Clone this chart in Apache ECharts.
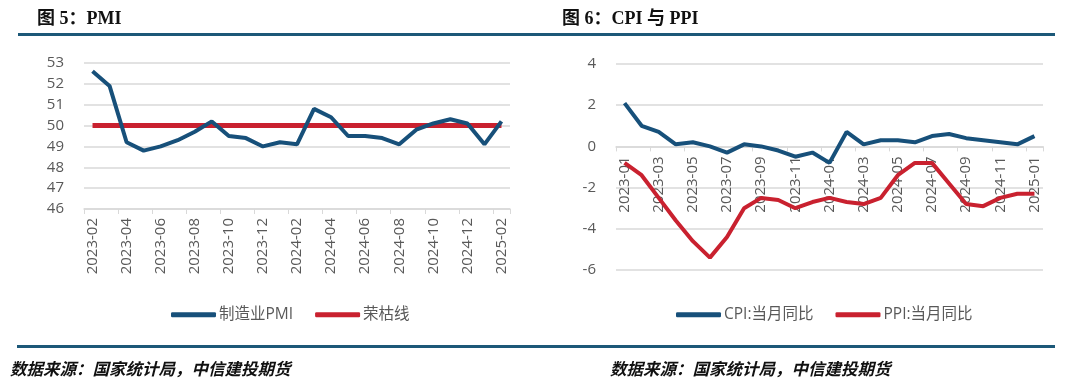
<!DOCTYPE html>
<html>
<head>
<meta charset="utf-8">
<script src="https://cdn.jsdelivr.net/npm/echarts@6/dist/echarts.min.js"></script>
<style>html,body{margin:0;padding:0;background:#fff;}#c{width:1080px;height:382px;}</style>
</head>
<body>
<div id="c"></div>
<script>
// ---- Data ----
var pmiMonths = ['2023-02','2023-03','2023-04','2023-05','2023-06','2023-07','2023-08','2023-09','2023-10','2023-11','2023-12',
  '2024-01','2024-02','2024-03','2024-04','2024-05','2024-06','2024-07','2024-08','2024-09','2024-10','2024-11','2024-12',
  '2025-01','2025-02'];
var pmiValues = [52.6,51.9,49.2,48.8,49.0,49.3,49.7,50.2,49.5,49.4,49.0,49.2,49.1,50.8,50.4,49.5,49.5,49.4,49.1,49.8,50.1,50.3,50.1,49.1,50.2];
var boomBust = [50,50,50,50,50,50,50,50,50,50,50,50,50,50,50,50,50,50,50,50,50,50,50,50,50];

var cpiMonths = ['2023-01','2023-02','2023-03','2023-04','2023-05','2023-06','2023-07','2023-08','2023-09','2023-10','2023-11','2023-12',
  '2024-01','2024-02','2024-03','2024-04','2024-05','2024-06','2024-07','2024-08','2024-09','2024-10','2024-11','2024-12','2025-01'];
var cpiValues = [2.1,1.0,0.7,0.1,0.2,0.0,-0.3,0.1,0.0,-0.2,-0.5,-0.3,-0.8,0.7,0.1,0.3,0.3,0.2,0.5,0.6,0.4,0.3,0.2,0.1,0.5];
var ppiValues = [-0.8,-1.4,-2.5,-3.6,-4.6,-5.4,-4.4,-3.0,-2.5,-2.6,-3.0,-2.7,-2.5,-2.7,-2.8,-2.5,-1.4,-0.8,-0.8,-1.8,-2.8,-2.9,-2.5,-2.3,-2.3];

var BLUE = '#17507a', RED = '#c9212f', RULE = '#1c5878';
var FONT = '"Open Sans","Noto Sans CJK SC",sans-serif';

var chart = echarts.init(document.getElementById('c'));
var axisLabelStyle = {color:'#595959', fontSize:15, fontFamily:FONT};

// right grid geometry; the category axis sits on the zero line of the value axis
var G2 = {left:616, right:37, top:64, bottom:112};
var Y2MIN = -6, Y2MAX = 4;
var g2Height = 382 - G2.top - G2.bottom;
var zeroOffset = -g2Height * (0 - Y2MIN) / (Y2MAX - Y2MIN);

chart.setOption({
  animation:false,
  title:[
    {text:'图 5：PMI', left:32, top:5, textStyle:{fontFamily:'"Liberation Serif","Noto Sans CJK SC",serif', fontWeight:'bold', fontSize:18, color:'#111'}},
    {text:'图 6：CPI 与 PPI', left:557, top:5, textStyle:{fontFamily:'"Liberation Serif","Noto Sans CJK SC",serif', fontWeight:'bold', fontSize:18, color:'#111'}},
    {text:'数据来源：国家统计局，中信建投期货', left:5, top:355, textStyle:{fontFamily:'"Noto Sans CJK SC",sans-serif', fontStyle:'italic', fontWeight:'bold', fontSize:16.5, color:'#111'}},
    {text:'数据来源：国家统计局，中信建投期货', left:605, top:355, textStyle:{fontFamily:'"Noto Sans CJK SC",sans-serif', fontStyle:'italic', fontWeight:'bold', fontSize:16.5, color:'#111'}}
  ],
  graphic:[
    {type:'rect', shape:{x:18, y:33, width:1037, height:3}, style:{fill:RULE}},
    {type:'rect', shape:{x:17, y:345, width:1038, height:3}, style:{fill:RULE}}
  ],
  legend:[
    {data:['制造业PMI','荣枯线'], left:166, top:302, icon:'roundRect', itemWidth:45, itemHeight:5, itemGap:22,
     textStyle:{color:'#595959', fontSize:15.5, fontFamily:FONT, padding:[0,0,0,-2]}},
    {data:['CPI:当月同比','PPI:当月同比'], left:671, top:302, icon:'roundRect', itemWidth:45, itemHeight:5, itemGap:22,
     textStyle:{color:'#595959', fontSize:15.5, fontFamily:FONT, padding:[0,0,0,-2]}}
  ],
  grid:[
    {left:84, right:570, top:63, bottom:173},
    G2
  ],
  xAxis:[
    {type:'category', gridIndex:0, data:pmiMonths, boundaryGap:true,
     axisLine:{lineStyle:{color:'#d9d9d9', width:1.5}},
     axisTick:{show:true, interval:1, length:5, lineStyle:{color:'#d9d9d9'}},
     axisLabel:Object.assign({rotate:90, interval:1, margin:9}, axisLabelStyle)},
    {type:'category', gridIndex:1, data:cpiMonths, boundaryGap:true, offset:zeroOffset,
     axisLine:{onZero:false, lineStyle:{color:'#d9d9d9', width:1.5}},
     axisTick:{show:true, interval:1, length:5, lineStyle:{color:'#d9d9d9'}},
     axisLabel:Object.assign({rotate:90, interval:1, margin:10}, axisLabelStyle)}
  ],
  yAxis:[
    {type:'value', gridIndex:0, min:46, max:53, interval:1,
     axisLine:{show:false}, axisTick:{show:false},
     splitLine:{lineStyle:{color:'#d9d9d9', width:1.5}},
     axisLabel:Object.assign({margin:20}, axisLabelStyle)},
    {type:'value', gridIndex:1, min:Y2MIN, max:Y2MAX, interval:2,
     axisLine:{show:false, onZero:false}, axisTick:{show:false},
     splitLine:{lineStyle:{color:'#d9d9d9', width:1.5}},
     axisLabel:Object.assign({margin:20}, axisLabelStyle)}
  ],
  series:[
    {name:'制造业PMI', type:'line', xAxisIndex:0, yAxisIndex:0, data:pmiValues, symbol:'none', z:3,
     lineStyle:{color:BLUE, width:4}, itemStyle:{color:BLUE}},
    {name:'荣枯线', type:'line', xAxisIndex:0, yAxisIndex:0, data:boomBust, symbol:'none', z:2,
     lineStyle:{color:RED, width:5}, itemStyle:{color:RED}},
    {name:'CPI:当月同比', type:'line', xAxisIndex:1, yAxisIndex:1, data:cpiValues, symbol:'none',
     lineStyle:{color:BLUE, width:4}, itemStyle:{color:BLUE}},
    {name:'PPI:当月同比', type:'line', xAxisIndex:1, yAxisIndex:1, data:ppiValues, symbol:'none',
     lineStyle:{color:RED, width:4}, itemStyle:{color:RED}}
  ]
});
</script>
</body>
</html>
